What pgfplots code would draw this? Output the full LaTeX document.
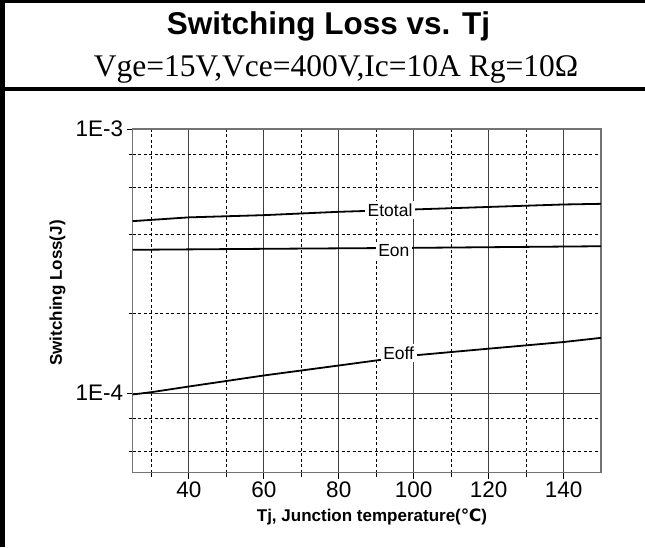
\documentclass[border=0pt]{standalone}
\usepackage{pgfplots}
\pgfplotsset{compat=1.18}
\usepackage{fontspec}
\setmainfont{Liberation Sans}
\newfontfamily\timesfont{Liberation Serif}
\newfontfamily\dejavu{DejaVu Sans}
\begin{document}
\begin{tikzpicture}
\useasboundingbox (0,0) rectangle (645pt,547pt);
\fill[white] (0,0) rectangle (645pt,547pt);
% frame
\draw[line width=5pt] (2.5pt,0pt) -- (2.5pt,547pt);
\draw[line width=3pt] (0pt,545.5pt) -- (645pt,545.5pt);
\draw[line width=4pt] (0pt,458pt) -- (645pt,458pt);
\node[anchor=base, inner sep=0pt, font=\fontsize{31.5}{36}\selectfont\bfseries] at (328.5pt,512pt) {Switching Loss vs. Tj};
\node[anchor=base, inner sep=0pt, font=\fontsize{31.5}{36}\selectfont\timesfont] at (336pt,470pt) {Vge=15V,Vce=400V,Ic=10A Rg=10Ω};
\begin{axis}[
  at={(132.7pt,74.3pt)}, anchor=south west,
  scale only axis, width=468.3pt, height=343.7pt,
  xmin=25, xmax=150,
  ymode=log, ymin=5e-5, ymax=1e-3,
  xtick={40,60,80,100,120,140},
  xticklabels={40,60,80,100,120,140},
  minor xtick={30,50,70,90,110,130},
  ytick={1e-4,1e-3},
  yticklabels={1E-4,1E-3},
  minor ytick={6e-5,8e-5,2e-4,4e-4,6e-4,8e-4},
  grid=both,
  major grid style={black!75, line width=0.9pt, solid},
  minor grid style={black, line width=0.8pt, dash pattern=on 3pt off 2.5pt},
  axis line style={black!55, line width=1.2pt},
  tick style={black, line width=0.8pt},
  tick align=outside,
  major tick length=6pt, minor tick length=4pt,
  xtick pos=bottom, ytick pos=left,
  ticklabel style={font=\fontsize{22.5}{24}\selectfont},
  xlabel={Tj, Junction temperature({\dejavu\bfseries ℃})},
  ylabel={Switching Loss(J)},
  every axis x label/.style={at={(axis description cs:0.511,-0.1426)}, anchor=base, font=\fontsize{17}{19}\selectfont\bfseries},
  every axis y label/.style={at={(axis description cs:-0.151,0.523)}, anchor=base, rotate=90, font=\fontsize{17}{19}\selectfont\bfseries},
]
\addplot[black, line width=1.8pt] coordinates {
 (25,4.48e-4) (40,4.63e-4) (60,4.72e-4) (80,4.86e-4) (100,4.96e-4) (120,5.07e-4) (140,5.18e-4) (150,5.21e-4)};
\addplot[black, line width=1.8pt] coordinates {
 (25,3.49e-4) (60,3.52e-4) (100,3.55e-4) (150,3.60e-4)};
\addplot[black, line width=1.8pt] coordinates {
 (25,9.89e-5) (30,1.009e-4) (40,1.06e-4) (60,1.167e-4) (80,1.273e-4) (100,1.39e-4) (120,1.474e-4) (140,1.562e-4) (150,1.62e-4)};
\node[fill=white, inner sep=2.5pt, font=\fontsize{17.5}{19}\selectfont] at (axis cs:93.7,4.94e-4) {Etotal};
\node[fill=white, inner sep=2.5pt, font=\fontsize{17.5}{19}\selectfont] at (axis cs:94.7,3.48e-4) {Eon};
\node[fill=white, inner sep=2.5pt, font=\fontsize{17.5}{19}\selectfont] at (axis cs:96.0,1.42e-4) {Eoff};
\end{axis}
\end{tikzpicture}
\end{document}
